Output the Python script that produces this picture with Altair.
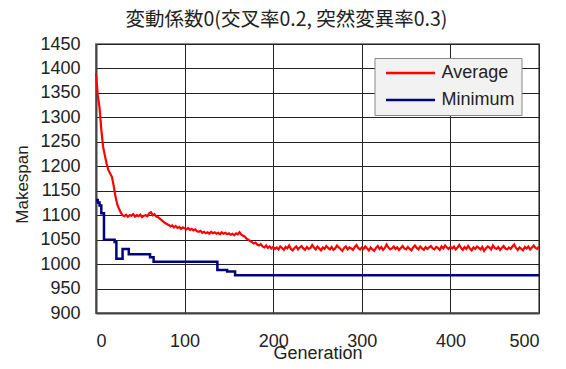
import altair as alt
import pandas as pd

title_text = "変動係数0(交叉率0.2, 突然変異率0.3)"
x_ticks = [0, 100, 200, 300, 400, 500]
y_ticks = [900, 950, 1000, 1050, 1100, 1150, 1200, 1250, 1300, 1350, 1400, 1450]
series_names = ["Average", "Minimum"]
series_colors = ["#ff0000", "#000080"]

# Average makespan, sampled every 2 generations (0..500)
avg_gen = list(range(0, 501, 2))
avg_val = [
    1390, 1345, 1320, 1275, 1240, 1222, 1205, 1192, 1185, 1178,
    1160, 1138, 1122, 1113, 1105, 1100, 1098, 1101, 1097, 1100,
    1099, 1102, 1097, 1100, 1098, 1101, 1096, 1099, 1100, 1098,
    1104, 1106, 1100, 1102, 1097, 1096, 1093, 1090, 1087, 1084,
    1082, 1080, 1077, 1079, 1075, 1078, 1074, 1076, 1072, 1075,
    1073, 1071, 1074, 1070, 1072, 1069, 1071, 1067, 1066, 1068,
    1064, 1066, 1063, 1065, 1062, 1066, 1063, 1065, 1062, 1064,
    1061, 1065, 1062, 1064, 1061, 1063, 1060, 1062, 1059, 1063,
    1061, 1065, 1060, 1058, 1056, 1052, 1050, 1047, 1045, 1042,
    1044, 1040, 1038, 1041, 1036, 1034, 1038, 1033, 1036, 1032,
    1035,
    1031, 1034, 1030, 1036, 1033, 1029, 1035, 1032, 1038, 1031,
    1028, 1033, 1036, 1030, 1034, 1037, 1032, 1029, 1035, 1031,
    1033, 1039, 1034, 1030, 1036, 1032, 1028, 1034, 1031, 1037,
    1033, 1030, 1035, 1029, 1032, 1038, 1034, 1031, 1027, 1033,
    1036, 1030, 1034, 1032, 1029, 1035, 1039, 1033, 1030, 1034,
    1031, 1036, 1032, 1028, 1034, 1030, 1027, 1033, 1037, 1031,
    1035, 1029, 1033, 1040, 1034, 1030, 1032, 1036, 1031, 1034,
    1029, 1033, 1037, 1032, 1030, 1035, 1031, 1028, 1034, 1038,
    1033, 1030, 1036, 1032, 1029, 1035, 1031, 1034, 1037, 1032,
    1030, 1035, 1033, 1029, 1036, 1032, 1038, 1034, 1031, 1035,
    1032, 1036, 1030, 1034, 1039, 1033, 1029, 1035, 1031, 1037,
    1032, 1028, 1034, 1031, 1036, 1033, 1030, 1035, 1027, 1032,
    1036, 1034, 1030, 1038, 1033, 1031, 1035, 1029, 1033, 1037,
    1032, 1030, 1034, 1031, 1036, 1040, 1033, 1029, 1034, 1031,
    1028, 1035, 1032, 1036, 1030, 1034, 1038, 1033, 1031, 1036,
]

# Minimum makespan: generations where the best value changes (step series)
min_gen = [0, 2, 4, 6, 9, 21, 23, 30, 37, 61, 65, 137, 148, 157, 500]
min_val = [1131, 1126, 1120, 1104, 1050, 1045, 1011, 1031, 1020, 1014, 1005, 988, 985, 977, 977]

n = min(len(avg_gen), len(avg_val))
df_avg = pd.DataFrame({"Generation": avg_gen[:n], "Makespan": avg_val[:n], "Series": series_names[0]})
df_min = pd.DataFrame({"Generation": min_gen, "Makespan": min_val, "Series": series_names[1]})

latin = "Liberation Sans"
ink = "#222222"

x_enc = alt.X(
    "Generation:Q",
    scale=alt.Scale(domain=[0, 500], nice=False, zero=True),
    axis=alt.Axis(
        values=x_ticks, format="d", title="Generation", grid=True, ticks=False, tickSize=0,
        labelPadding=19, labelFontSize=18, labelFont=latin, labelColor=ink,
        titleFontSize=18, titleFont=latin, titleColor=ink, titleFontWeight="normal",
        titleY=45, titleBaseline="alphabetic",
        domainColor="#444444", domainWidth=2, gridColor="#222222", gridWidth=1,
    ),
)
y_enc = alt.Y(
    "Makespan:Q",
    scale=alt.Scale(domain=[900, 1450], nice=False, zero=False),
    axis=alt.Axis(
        values=y_ticks, format="d", title="Makespan", grid=True, ticks=False, tickSize=0,
        labelPadding=16, labelFontSize=18, labelFont=latin, labelColor=ink,
        titleFontSize=17, titleFont=latin, titleColor=ink, titleFontWeight="normal",
        titleX=-69, titleY=140, titleBaseline="alphabetic", titleAngle=270, titleAlign="center",
        domainColor="#444444", domainWidth=2, gridColor="#222222", gridWidth=1,
    ),
)
color_enc = alt.Color(
    "Series:N",
    scale=alt.Scale(domain=series_names, range=series_colors),
    legend=alt.Legend(
        title=None, orient="none", legendX=278.5, legendY=14,
        symbolType="M-3.27,0H3.27", symbolSize=225, symbolStrokeWidth=2.5,
        labelFontSize=18, labelFont=latin, labelColor=ink,
        fillColor="#f2f2f2", strokeColor="#888888", padding=6,
        symbolOffset=21, labelOffset=22, rowPadding=9,
    ),
)

avg_line = alt.Chart(df_avg).mark_line(strokeWidth=2.2, interpolate="linear").encode(
    x=x_enc, y=y_enc, color=color_enc
)
min_line = alt.Chart(df_min).mark_line(strokeWidth=2.5, interpolate="step-after").encode(
    x=x_enc, y=y_enc, color=color_enc
)

chart = (
    alt.layer(avg_line, min_line)
    .properties(
        width=443, height=269,
        title=alt.TitleParams(title_text, font="Noto Sans CJK JP", fontSize=19.5,
                              fontWeight="normal", color=ink, anchor="middle", offset=5, dx=-31),
        autosize=alt.AutoSizeParams(type="none"),
        padding={"left": 88, "top": 36, "right": 19, "bottom": 47},
        background="white",
    )
    .configure_view(stroke="#888888", strokeWidth=2)
)

chart.save("out.html", embed_options={"renderer": "svg", "actions": False})
